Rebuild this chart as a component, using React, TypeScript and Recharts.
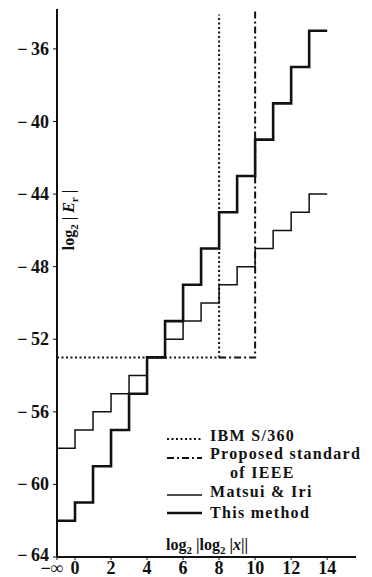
import { LineChart, Line, XAxis, YAxis, Legend, Label } from "recharts";

// x = -1 stands for -infinity on the axis
const X_STEPS = [-1, 0, 1, 2, 3, 4, 5, 6, 7, 8, 9, 10, 11, 12, 13, 14];
const THIS_METHOD = [-62, -61, -59, -57, -55, -53, -51, -49, -47, -45, -43, -41, -39, -37, -35, -35];
const MATSUI_IRI = [-58, -57, -56, -55, -54, -53, -52, -51, -50, -49, -48, -47, -46, -45, -44, -44];
const IBM_X = [-1, 8, 8];
const IBM_Y = [-53, -53, -34.1];
const IEEE_X = [8, 10, 10];
const IEEE_Y = [-53, -53, -33.8];

const X_TICKS = [-1, 0, 2, 4, 6, 8, 10, 12, 14];
const Y_TICKS = [-64, -60, -56, -52, -48, -44, -40, -36];

const INK = "#111";
const SERIF = "'Liberation Serif', 'DejaVu Serif', serif";

const thisData = X_STEPS.map((x, i) => ({ x, y: THIS_METHOD[i] }));
const matsuiData = X_STEPS.map((x, i) => ({ x, y: MATSUI_IRI[i] }));
const ibmData = IBM_X.map((x, i) => ({ x, y: IBM_Y[i] }));
const ieeeData = IEEE_X.map((x, i) => ({ x, y: IEEE_Y[i] }));

const XTick = ({ x, y, payload }: any) => (
  <text
    x={payload.value === -1 ? x - 5 : x}
    y={y}
    dy={13}
    textAnchor="middle"
    fontFamily={SERIF}
    fontWeight="bold"
    fontSize={18}
    fill={INK}
  >
    {payload.value === -1 ? "\u2212\u221e" : String(payload.value)}
  </text>
);

const YTick = ({ x, y, payload }: any) => (
  <text
    x={x}
    y={y}
    dy={payload.value === -64 ? 4 : 6}
    textAnchor="end"
    fontFamily={SERIF}
    fontWeight="bold"
    fontSize={18}
    fill={INK}
  >
    {"\u2212\u2009" + Math.abs(payload.value)}
  </text>
);

function LegendBox() {
  const txt = { fontFamily: SERIF, fontWeight: "bold" as const, fontSize: 16, fill: INK, letterSpacing: 1.3 };
  return (
    <svg width={212} height={105}>
      <line x1={7} x2={42} y1={19} y2={19} stroke={INK} strokeWidth={2} strokeDasharray="2 2.5" />
      <text x={50} y={21} {...txt}>IBM S/360</text>
      <line x1={7} x2={42} y1={38} y2={38} stroke={INK} strokeWidth={2} strokeDasharray="7 3 2 3" />
      <text x={50} y={39} {...txt}>Proposed standard</text>
      <text x={70} y={58} {...txt}>of IEEE</text>
      <line x1={7} x2={42} y1={75} y2={75} stroke={INK} strokeWidth={1.5} />
      <text x={50} y={77} {...txt}>Matsui &amp; Iri</text>
      <line x1={7} x2={42} y1={93} y2={93} stroke={INK} strokeWidth={2.6} />
      <text x={50} y={98} {...txt}>This method</text>
    </svg>
  );
}

export default function App() {
  return (
    <div style={{ position: "absolute", left: 0, top: 0, background: "#fff" }}>
      <LineChart width={372} height={577} margin={{ top: 9, right: 16, bottom: 0, left: 0 }}>
        <XAxis
          type="number"
          dataKey="x"
          domain={[-1, 15.6]}
          ticks={X_TICKS}
          allowDataOverflow
          height={20}
          tickSize={3}
          tickMargin={1}
          axisLine={{ stroke: INK, strokeWidth: 2 }}
          tickLine={{ stroke: INK }}
          tick={<XTick />}
        >
          <Label
            content={() => (
              <text x={207} y={550} textAnchor="middle" fontFamily={SERIF} fontWeight="bold" fontSize={16} fill={INK}>
                log<tspan fontSize={11} dy={4}>2</tspan>
                <tspan dy={-4}> |log</tspan>
                <tspan fontSize={11} dy={4}>2</tspan>
                <tspan dy={-4}> |</tspan>
                <tspan fontStyle="italic">x</tspan>
                <tspan>||</tspan>
              </text>
            )}
          />
        </XAxis>
        <YAxis
          type="number"
          domain={[-64, -33.8]}
          ticks={Y_TICKS}
          allowDataOverflow
          width={57}
          tickSize={4}
          tickMargin={4}
          axisLine={{ stroke: INK, strokeWidth: 2 }}
          tickLine={{ stroke: INK }}
          tick={<YTick />}
        >
          <Label
            content={() => (
              <text
                transform="translate(74,220) rotate(-90)"
                textAnchor="middle"
                fontFamily={SERIF}
                fontWeight="bold"
                fontSize={16}
                fill={INK}
              >
                log<tspan fontSize={11} dy={4}>2</tspan>
                <tspan dy={-4}> | </tspan>
                <tspan fontStyle="italic">E</tspan>
                <tspan fontSize={11} dy={4}>r</tspan>
                <tspan dy={-4}> |</tspan>
              </text>
            )}
          />
        </YAxis>
        <Legend
          layout="vertical"
          align="center"
          verticalAlign="middle"
          content={() => <LegendBox />}
          wrapperStyle={{ position: "absolute", left: 160, top: 420, width: 212, height: 105 }}
        />
        <Line
          data={ibmData}
          dataKey="y"
          type="linear"
          stroke={INK}
          strokeWidth={2}
          strokeDasharray="2 2.5"
          dot={false}
          isAnimationActive={false}
        />
        <Line
          data={ieeeData}
          dataKey="y"
          type="linear"
          stroke={INK}
          strokeWidth={2}
          strokeDasharray="7 3 2 3"
          dot={false}
          isAnimationActive={false}
        />
        <Line
          data={matsuiData}
          dataKey="y"
          type="stepAfter"
          stroke={INK}
          strokeWidth={1.5}
          dot={false}
          isAnimationActive={false}
        />
        <Line
          data={thisData}
          dataKey="y"
          type="stepAfter"
          stroke={INK}
          strokeWidth={2.6}
          dot={false}
          isAnimationActive={false}
        />
      </LineChart>
    </div>
  );
}
